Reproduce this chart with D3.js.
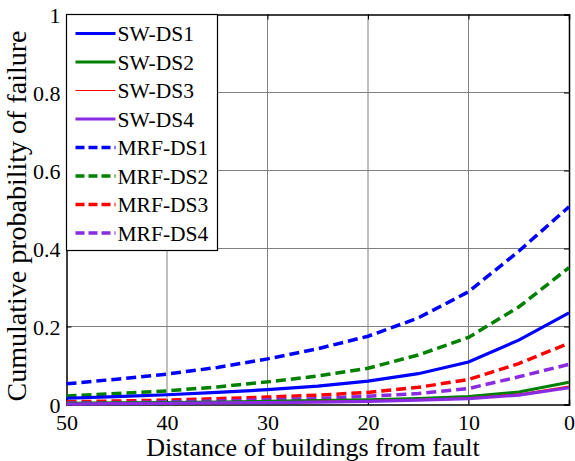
<!DOCTYPE html>
<html lang="en">
<head>
    <meta charset="utf-8">
    <script src="https://d3js.org/d3.v7.min.js"></script>
    <style>
        svg, svg text { font-family: "Liberation Serif", "Times New Roman", serif !important; }
    </style>
</head>
<body style="margin:0">
    <script type="text/javascript">
        // distance from fault (km), plotted right-to-left
        var distance = [50, 45, 40, 35, 30, 25, 20, 15, 10, 5, 0];

        var swDS1  = [0.016, 0.020, 0.025, 0.031, 0.038, 0.047, 0.060, 0.079, 0.109, 0.165, 0.235];
        var swDS2  = [0.003, 0.004, 0.005, 0.006, 0.008, 0.010, 0.012, 0.015, 0.020, 0.032, 0.057];
        var swDS3  = [0.002, 0.003, 0.004, 0.005, 0.006, 0.008, 0.010, 0.013, 0.017, 0.027, 0.047];
        var swDS4  = [0.001, 0.002, 0.003, 0.004, 0.005, 0.006, 0.008, 0.011, 0.015, 0.024, 0.043];
        var mrfDS1 = [0.053, 0.065, 0.078, 0.095, 0.117, 0.143, 0.175, 0.222, 0.289, 0.393, 0.507];
        var mrfDS2 = [0.022, 0.028, 0.035, 0.045, 0.058, 0.073, 0.093, 0.127, 0.172, 0.250, 0.351];
        var mrfDS3 = [0.007, 0.009, 0.011, 0.015, 0.019, 0.024, 0.031, 0.044, 0.064, 0.105, 0.157];
        var mrfDS4 = [0.004, 0.005, 0.007, 0.009, 0.012, 0.015, 0.021, 0.028, 0.041, 0.071, 0.103];

        var xTicks = [50, 40, 30, 20, 10, 0];
        var yTicks = [0, 0.2, 0.4, 0.6, 0.8, 1];

        var series = [
            {name: "SW-DS1",  values: swDS1,  color: "#0000ff", width: 3.2, dash: null},
            {name: "SW-DS2",  values: swDS2,  color: "#008000", width: 3.2, dash: null},
            {name: "SW-DS3",  values: swDS3,  color: "#ff0000", width: 1.2, dash: null},
            {name: "SW-DS4",  values: swDS4,  color: "#8a2be2", width: 3.2, dash: null},
            {name: "MRF-DS1", values: mrfDS1, color: "#0000ff", width: 3.5, dash: "10,5"},
            {name: "MRF-DS2", values: mrfDS2, color: "#008000", width: 3.5, dash: "10,5"},
            {name: "MRF-DS3", values: mrfDS3, color: "#ff0000", width: 3.5, dash: "10,5"},
            {name: "MRF-DS4", values: mrfDS4, color: "#8a2be2", width: 3.5, dash: "10,5"}
        ];

        var fontName = "Liberation Serif";

        var w = 575;
        var h = 461;
        var margin = {top: 14.5, right: 6, bottom: 56.5, left: 66.5};
        var pw = w - margin.left - margin.right;
        var ph = h - margin.top - margin.bottom;

        var svg = d3.select("body")
                    .append("svg")
                    .attr("width", w)
                    .attr("height", h)
                    .attr("font-family", fontName);

        var x = d3.scaleLinear().domain([50, 0]).range([0, pw]);
        var y = d3.scaleLinear().domain([0, 1]).range([ph, 0]);

        var g = svg.append("g")
                   .attr("transform", "translate(" + margin.left + "," + margin.top + ")");

        // grid
        g.selectAll("line.vgrid")
            .data(xTicks.slice(1, -1))
            .enter()
            .append("line")
            .attr("x1", function(d) { return x(d); })
            .attr("x2", function(d) { return x(d); })
            .attr("y1", 0).attr("y2", ph)
            .attr("stroke", "#808080").attr("stroke-width", 1);
        g.selectAll("line.hgrid")
            .data(yTicks.slice(1, -1))
            .enter()
            .append("line")
            .attr("y1", function(d) { return y(d); })
            .attr("y2", function(d) { return y(d); })
            .attr("x1", 0).attr("x2", pw)
            .attr("stroke", "#808080").attr("stroke-width", 1);

        // axes
        var xAxis = g.append("g")
            .attr("transform", "translate(0," + ph + ")")
            .call(d3.axisBottom(x).tickValues(xTicks).tickSize(-5).tickPadding(10).tickFormat(d3.format("d")));
        var yAxis = g.append("g")
            .call(d3.axisLeft(y).tickValues(yTicks).tickSize(-5).tickPadding(6).tickFormat(function(d) { return d === 0 || d === 1 ? d : d3.format(".1f")(d); }));
        g.append("g")
            .call(d3.axisRight(y).tickValues(yTicks).tickSize(-5).tickFormat(""))
            .attr("transform", "translate(" + pw + ",0)");
        g.append("g")
            .call(d3.axisTop(x).tickValues(xTicks).tickSize(-5).tickFormat(""));

        // drop the sans-serif that d3.axis puts on its groups
        g.selectAll("g").attr("font-family", null).attr("font-size", null);
        g.selectAll(".domain").attr("stroke", "#000").attr("stroke-width", 1.5);
        g.selectAll(".tick line").attr("stroke", "#000");
        g.selectAll(".tick text")
            .attr("font-family", fontName)
            .attr("font-size", 22)
            .attr("fill", "#000");
        xAxis.selectAll(".tick text").attr("dy", "0.71em");
        yAxis.selectAll(".tick text").attr("dy", "0.35em");

        // lines
        var line = d3.line()
                     .x(function(d, i) { return x(distance[i]); })
                     .y(function(d) { return y(d); });

        g.append("g")
            .selectAll("path")
            .data(series.slice(4).concat(series.slice(0, 4)))
            .enter()
            .append("path")
            .attr("fill", "none")
            .attr("stroke", function(d) { return d.color; })
            .attr("stroke-width", function(d) { return d.width; })
            .attr("stroke-dasharray", function(d) { return d.dash; })
            .attr("d", function(d) { return line(d.values); });

        // legend
        var lg = g.append("g");
        lg.append("rect")
            .attr("x", 0).attr("y", 0)
            .attr("width", 151).attr("height", 236)
            .attr("fill", "#fff").attr("stroke", "#000").attr("stroke-width", 1.2);

        var rows = lg.selectAll("g.row")
            .data(series)
            .enter()
            .append("g")
            .attr("class", "row")
            .attr("transform", function(d, i) { return "translate(0," + (19 + i * 28.5) + ")"; });
        rows.append("line")
            .attr("x1", 9).attr("x2", 49)
            .attr("y1", 0).attr("y2", 0)
            .attr("stroke", function(d) { return d.color; })
            .attr("stroke-width", function(d) { return d.width; })
            .attr("stroke-dasharray", function(d) { return d.dash ? "9,4" : null; });
        rows.append("text")
            .attr("x", 51).attr("y", 0).attr("dy", "0.35em")
            .attr("font-family", fontName)
            .attr("font-size", 21.5)
            .text(function(d) { return d.name; });

        // axis titles
        svg.append("text")
            .attr("x", 313)
            .attr("y", 456)
            .attr("text-anchor", "middle")
            .attr("font-family", fontName)
            .attr("font-size", 26)
            .text("Distance of buildings from fault");
        svg.append("text")
            .attr("transform", "translate(26,216) rotate(-90)")
            .attr("text-anchor", "middle")
            .attr("font-family", fontName)
            .attr("font-size", 28)
            .text("Cumulative probability of failure");
    </script>
</body>
</html>
